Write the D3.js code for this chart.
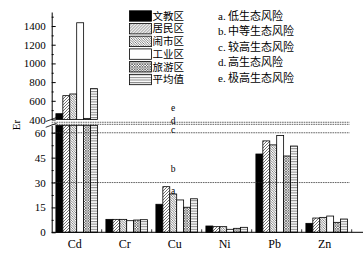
<!DOCTYPE html>
<html>
<head>
<meta charset="utf-8">
<script src="https://cdn.jsdelivr.net/npm/d3@7/dist/d3.min.js"></script>
<style>
  body { margin: 0; background: #fff; }
  svg text { font-family: "Liberation Serif", "DejaVu Serif", serif; fill: #000; }
  svg text.cjk { font-family: "Liberation Serif", "Noto Sans CJK SC", sans-serif; }
</style>
</head>
<body>
<div id="chart"></div>
<script>
// data
const elements = ["Cd", "Cr", "Cu", "Ni", "Pb", "Zn"];
const areas = ["文教区", "居民区", "闹市区", "工业区", "旅游区", "平均值"];
const eduVals    = [462, 7.8, 16.9, 3.8, 47.2, 5.4];
const resVals    = [655, 7.8, 27.5, 3.4, 55.1, 8.6];
const busyVals   = [673, 7.8, 23.1, 3.4, 52.7, 9.0];
const indVals    = [1435, 7.0, 19.5, 1.8, 58.3, 9.8];
const tourVals   = [412, 7.4, 15.1, 2.4, 46.0, 6.0];
const meanVals   = [730, 7.6, 20.2, 3.0, 52.0, 8.0];
const seriesVals = [eduVals, resVals, busyVals, indVals, tourVals, meanVals];

const riskKeys = ["a", "b", "c", "d", "e"];
const riskNames = ["低生态风险", "中等生态风险", "较高生态风险", "高生态风险", "极高生态风险"];
const riskLines = [30, 60, 120, 240];           // b, c, d, e thresholds
const riskLabelPos = [25, 38, 61.5, 320, 523];  // where a..e letters sit

const lowTicks = [0, 15, 30, 45, 60];
const highTicks = [400, 600, 800, 1000, 1200, 1400];

const W = 363, H = 254;
const left = 51.7, right = 351.7, base = 232.3;

const svg = d3.select("#chart").append("svg")
    .attr("width", W).attr("height", H);

// broken y scale: 0-64.5 below the break, 400-1550 above it
const y = d3.scaleLinear()
    .domain([0, 64.5, 400, 1550])
    .range([base, 125.3, 119.5, 12]);
const yLow = d3.scaleLinear().domain([0, 64.5]).range([base, 125.3]);
const yHigh = d3.scaleLinear().domain([400, 1550]).range([119.5, 12]);

const x0 = d3.scaleBand().domain(elements).range([left, right]);
const x1 = d3.scaleBand().domain(areas).range([4.2, x0.bandwidth() - 4.2]);

// fill patterns
const defs = svg.append("defs");
function pat(id, w, h, draw) {
    const p = defs.append("pattern").attr("id", id)
        .attr("patternUnits", "userSpaceOnUse").attr("width", w).attr("height", h);
    p.append("rect").attr("width", w).attr("height", h).attr("fill", "#fff");
    draw(p);
}
pat("pRes", 3, 3, p => {
    p.append("path").attr("d", "M-1,1 L1,-1 M0,3 L3,0 M2,4 L4,2")
        .attr("stroke", "#333").attr("stroke-width", 0.7);
});
pat("pBusy", 2.4, 2.4, p => {
    p.append("path").attr("d", "M-1,1.4 L1,3.4 M0,0 L2.4,2.4 M1.4,-1 L3.4,1")
        .attr("stroke", "#333").attr("stroke-width", 0.6);
});
pat("pTour", 2.6, 2.6, p => {
    p.append("path").attr("d", "M0,0 L2.6,2.6 M2.6,0 L0,2.6")
        .attr("stroke", "#333").attr("stroke-width", 0.6);
});
pat("pMean", 4, 2.6, p => {
    p.append("path").attr("d", "M0,0.6 L4,0.6")
        .attr("stroke", "#555").attr("stroke-width", 0.8);
});
const fills = ["#000", "url(#pRes)", "url(#pBusy)", "#fff", "url(#pTour)", "url(#pMean)"];

// bars
const rows = [];
elements.forEach((el, i) => {
    areas.forEach((a, j) => {
        rows.push({el: el, area: a, si: j, v: seriesVals[j][i]});
    });
});

const gBars = svg.append("g");
const bw = x1.bandwidth();
gBars.selectAll("rect.low")
    .data(rows)
    .enter().append("rect")
    .attr("class", "low")
    .attr("x", d => x0(d.el) + x1(d.area))
    .attr("y", d => yLow(Math.min(d.v, 64.5)))
    .attr("width", bw)
    .attr("height", d => base - yLow(Math.min(d.v, 64.5)))
    .attr("fill", d => fills[d.si])
    .attr("stroke", "#000").attr("stroke-width", 0.8);

gBars.selectAll("rect.high")
    .data(rows.filter(d => d.v > 400))
    .enter().append("rect")
    .attr("class", "high")
    .attr("x", d => x0(d.el) + x1(d.area))
    .attr("y", d => yHigh(d.v))
    .attr("width", bw)
    .attr("height", d => yHigh(400) - yHigh(d.v))
    .attr("fill", d => fills[d.si])
    .attr("stroke", "#000").attr("stroke-width", 0.8);

// risk threshold lines
svg.append("g").selectAll("line")
    .data(riskLines)
    .enter().append("line")
    .attr("x1", left).attr("x2", right - 2)
    .attr("y1", d => y(d)).attr("y2", d => y(d))
    .attr("stroke", "#222").attr("stroke-width", 0.7)
    .attr("stroke-dasharray", "1.6,0.8");

const labX = x0("Cu") + x1("闹市区") + bw / 2;
svg.append("g").selectAll("text")
    .data(riskKeys)
    .enter().append("text")
    .attr("x", labX)
    .attr("y", (d, i) => y(riskLabelPos[i]))
    .attr("dy", "0.3em")
    .attr("text-anchor", "middle")
    .style("font-size", "9.5px")
    .text(d => d);

// y axes (ticks point inward)
const fmt = d3.format("d");
const axLow = svg.append("g").attr("transform", `translate(${left},0)`)
    .call(d3.axisLeft(yLow).tickValues(lowTicks).tickFormat(fmt)
        .tickSizeInner(-4).tickSizeOuter(0).tickPadding(6));
const axHigh = svg.append("g").attr("transform", `translate(${left},0)`)
    .call(d3.axisLeft(yHigh).tickValues(highTicks).tickFormat(fmt)
        .tickSizeInner(-4).tickSizeOuter(0).tickPadding(6));
[axLow, axHigh].forEach(ax => {
    ax.attr("font-family", null);
    ax.selectAll("text").style("font-size", "11px");
    ax.select(".domain").attr("stroke-width", 1);
});
// minor ticks
svg.append("g").attr("transform", `translate(${left},0)`)
    .call(d3.axisLeft(yLow).tickValues(d3.range(7.5, 64, 15)).tickSize(-2).tickFormat(""))
    .select(".domain").remove();
svg.append("g").attr("transform", `translate(${left},0)`)
    .call(d3.axisLeft(yHigh).tickValues(d3.range(500, 1550, 200)).tickSize(-2).tickFormat(""))
    .select(".domain").remove();

// break marks
svg.append("g").selectAll("line")
    .data([119.5, 125.3])
    .enter().append("line")
    .attr("x1", left - 6).attr("x2", left + 5)
    .attr("y1", d => d + 2).attr("y2", d => d - 2)
    .attr("stroke", "#000").attr("stroke-width", 0.8);

// x axis
const axX = svg.append("g").attr("transform", `translate(0,${base})`)
    .call(d3.axisBottom(x0).tickSize(0).tickPadding(7));
axX.select(".domain").remove();
axX.attr("font-family", null);
axX.selectAll("text").style("font-size", "12px").attr("dx", "-2");
svg.append("line")
    .attr("x1", left).attr("x2", W)
    .attr("y1", base).attr("y2", base)
    .attr("stroke", "#000").attr("stroke-width", 1);
svg.append("g").selectAll("line")
    .data(elements.slice(1).concat(["end"]))
    .enter().append("line")
    .attr("x1", d => d === "end" ? right : x0(d))
    .attr("x2", d => d === "end" ? right : x0(d))
    .attr("y1", base).attr("y2", base - 3)
    .attr("stroke", "#000").attr("stroke-width", 0.8);

// y title
svg.append("text")
    .attr("transform", "translate(20,125) rotate(-90)")
    .attr("text-anchor", "middle")
    .style("font-size", "11px")
    .text("Er");

// legend
const leg = svg.append("g").attr("transform", "translate(129.5,16)");
const legItem = leg.selectAll("g")
    .data(areas)
    .enter().append("g")
    .attr("transform", (d, i) => `translate(0,${i * 12.7})`);
legItem.append("rect")
    .attr("x", 0).attr("y", -5.2)
    .attr("width", 22).attr("height", 10.4)
    .attr("fill", (d, i) => fills[i])
    .attr("stroke", "#000").attr("stroke-width", 0.8);
legItem.append("text")
    .attr("class", "cjk")
    .attr("x", 23).attr("dy", "0.36em")
    .style("font-size", "10.5px")
    .text(d => d);

const risk = svg.append("g").attr("transform", "translate(218,16)");
const riskItem = risk.selectAll("g")
    .data(riskNames)
    .enter().append("g")
    .attr("transform", (d, i) => `translate(0,${i * 15.4})`);
riskItem.append("text")
    .attr("dy", "0.36em")
    .style("font-size", "11px")
    .text((d, i) => riskKeys[i] + ".");
riskItem.append("text")
    .attr("class", "cjk")
    .attr("x", 10).attr("dy", "0.36em")
    .style("font-size", "11px")
    .text(d => d);
</script>
</body>
</html>
